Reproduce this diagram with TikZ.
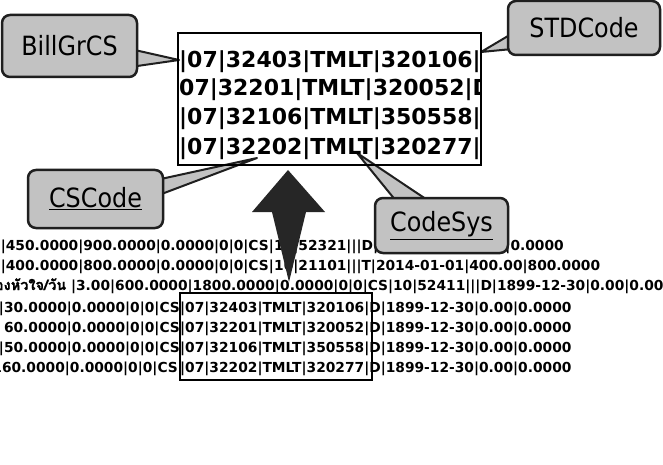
\documentclass[tikz,border=0pt]{standalone}
\usepackage{fontspec}
\usetikzlibrary{calc,backgrounds}
\newfontfamily\datafont{DejaVu Sans}
\newfontfamily\tagfont[FakeStretch=0.9]{DejaVu Sans}
\newfontfamily\thaifont[Script=Thai, Scale=1.05, FakeBold=1.2]{Loma}
\definecolor{bubblegray}{gray}{0.76}
\definecolor{inkgray}{gray}{0.12}
\newcommand*{\bubbletail}[4]{%
\fill[bubblegray, draw=inkgray, line width=2pt, line join=round] ($(#1)+(#2)$) -- (#4) -- ($(#1)+(#3)$) -- cycle;}
\tikzset{
  bubble/.style={draw=inkgray, line width=2.5pt, fill=bubblegray, rounded corners=8pt,
    inner sep=0pt, font=\tagfont\fontsize{26.5}{28}\selectfont},
  bigrow/.style={anchor=base west, inner sep=0pt, font=\datafont\bfseries\fontsize{22}{24}\selectfont},
  rowl/.style={anchor=base east, inner sep=0pt, font=\datafont\bfseries\fontsize{13.8}{15}\selectfont},
  rowr/.style={anchor=base west, inner sep=0pt, font=\datafont\bfseries\fontsize{13.8}{15}\selectfont},
}

\begin{document}
\begin{tikzpicture}[x=1pt, y=-1pt]
\useasboundingbox (0,0) rectangle (663,465);

% export lines
\node[rowl] (r1l) at (274,250) {0|450.0000|900.0000|0.0000|0|0|CS|};
\node[rowr] (r1r) at (r1l.base east) {10|52321|||D|1899-12-30|0.00|0.0000};
\node[rowl] (r2l) at (274,270) {0|400.0000|800.0000|0.0000|0|0|CS|};
\node[rowr] (r2r) at (r2l.base east) {10|21101|||T|2014-01-01|400.00|800.0000};
\node[rowl] (r3l) at (280,290) {{\thaifont องหัวใจ/วัน}\ |3.00|600.0000|1800.0000|};
\node[rowr] (r3r) at (r3l.base east) {0.0000|0|0|CS|10|52411|||D|1899-12-30|0.00|0.0000};
\node[rowl] (r4l) at (180,312) {|30.0000|0.0000|0|0|CS};
\node[rowr] (r4r) at (r4l.base east) {|07|32403|TMLT|320106|D|1899-12-30|0.00|0.0000};
\node[rowl] (r5l) at (180,332) {60.0000|0.0000|0|0|CS};
\node[rowr] (r5r) at (r5l.base east) {|07|32201|TMLT|320052|D|1899-12-30|0.00|0.0000};
\node[rowl] (r6l) at (180,352) {|50.0000|0.0000|0|0|CS};
\node[rowr] (r6r) at (r6l.base east) {|07|32106|TMLT|350558|D|1899-12-30|0.00|0.0000};
\node[rowl] (r7l) at (178,372) {160.0000|0.0000|0|0|CS};
\node[rowr] (r7r) at (180,372) {|07|32202|TMLT|320277|D|1899-12-30|0.00|0.0000};

\node[draw, line width=2pt, minimum width=192pt, minimum height=87pt, inner sep=0pt] (lowbox) at (276,336.5) {};

% enlarged copy
\node[minimum width=303pt, minimum height=132pt, inner sep=0pt] (zoombox) at (329.5,99) {};
\begin{scope}
  \clip (zoombox.south west) rectangle (zoombox.north east);
  \node[bigrow] (z1) at (179,68) {|07|32403|TMLT|320106|D};
  \node[bigrow] (z2) at (179,96) {07|32201|TMLT|320052|D};
  \node[bigrow] (z3) at (179,125) {|07|32106|TMLT|350558|D};
  \node[bigrow] (z4) at (179,155) {|07|32202|TMLT|320277|D};
\end{scope}
\draw[line width=2.5pt] (zoombox.south west) rectangle (zoombox.north east);

\fill[black!85] (288,170) -- (325,212) -- (306,212) -- (289,282) -- (272,212) -- (252,212) -- cycle;

% callouts
\node[bubble, minimum width=135pt, minimum height=62pt] (billgr) at (69.5,46) {BillGrCS};
\node[bubble, minimum width=152pt, minimum height=54pt] (stdcode) at (584,28) {STDCode};
\node[bubble, minimum width=135pt, minimum height=58pt] (cscode) at (95.5,199) {\underline{CSCode}};
\node[bubble, minimum width=133pt, minimum height=55pt] (codesys) at (441.5,225.5) {\underline{CodeSys}};

\coordinate (billtip) at (179,60);
\coordinate (stdtip) at (481,52);
\coordinate (cstip) at (257,158);
\coordinate (systip) at (357,153);

\begin{scope}[on background layer]
  \fill[white] (0,0) rectangle (663,465);
  \bubbletail{billgr.east}{-8,3}{-8,21}{billtip}
  \bubbletail{stdcode.west}{8,4}{16,20}{stdtip}
  \bubbletail{cscode.east}{-8,-19}{-8,-3}{cstip}
  \bubbletail{codesys.north}{-44,6}{-10,6}{systip}
\end{scope}
\end{tikzpicture}
\end{document}
